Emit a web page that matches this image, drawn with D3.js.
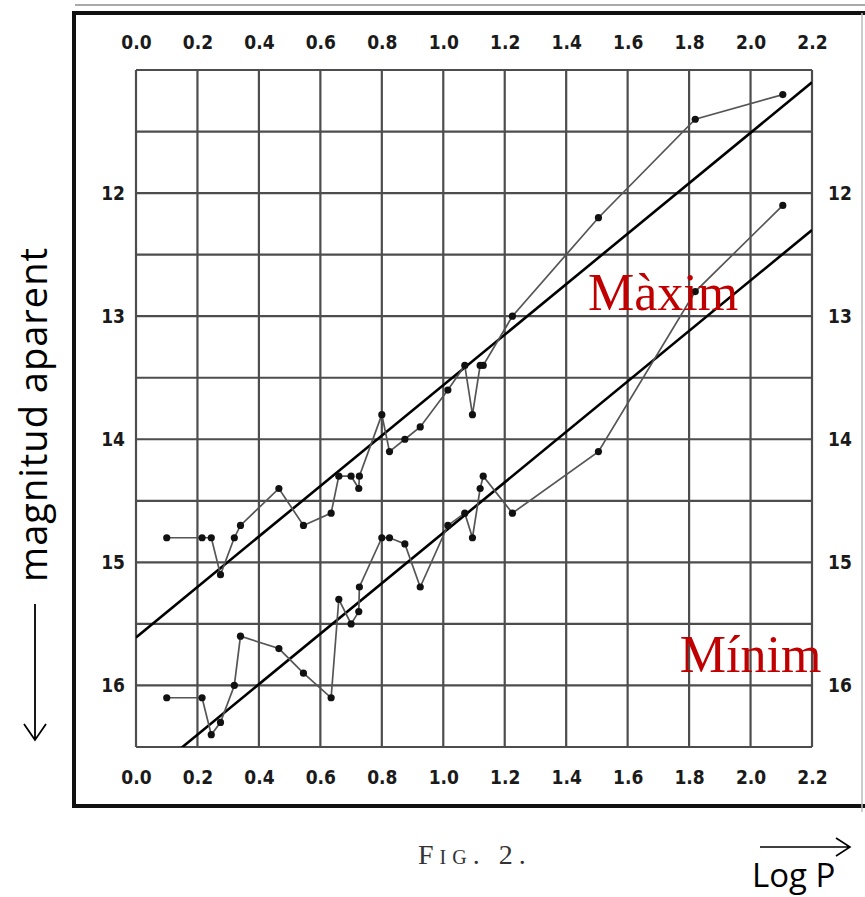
<!DOCTYPE html>
<html>
<head>
<meta charset="utf-8">
<script src="https://cdn.jsdelivr.net/npm/d3@7"></script>
<style>
    body { margin: 0; background: #fff; }
    svg { display: block; }
</style>
</head>
<body>
<svg id="chart" width="865" height="897"></svg>
<script>
// data (log of period in days, apparent magnitude at max / min)
var logP = [0.10, 0.215, 0.245, 0.275, 0.32, 0.34, 0.465, 0.545, 0.635, 0.66, 0.70, 0.725, 0.727,
    0.80, 0.825, 0.875, 0.925, 1.015, 1.07, 1.095, 1.12, 1.13, 1.225, 1.505, 1.82, 2.105];
var magMax = [14.8, 14.8, 14.8, 15.1, 14.8, 14.7, 14.4, 14.7, 14.6, 14.3, 14.3, 14.4, 14.3,
    13.8, 14.1, 14.0, 13.9, 13.6, 13.4, 13.8, 13.4, 13.4, 13.0, 12.2, 11.4, 11.2];
var magMin = [16.1, 16.1, 16.4, 16.3, 16.0, 15.6, 15.7, 15.9, 16.1, 15.3, 15.5, 15.4, 15.2,
    14.8, 14.8, 14.85, 15.2, 14.7, 14.6, 14.8, 14.4, 14.3, 14.6, 14.1, 12.8, 12.1];

// the two straight lines drawn through the points
var fitMax = [[0, 15.61], [2.2, 11.1]];
var fitMin = [[0, 16.81], [2.2, 12.3]];

// ticks
var xTicks = [0, 0.2, 0.4, 0.6, 0.8, 1.0, 1.2, 1.4, 1.6, 1.8, 2.0, 2.2];
var xTickLabels = ['0.0', '0.2', '0.4', '0.6', '0.8', '1.0', '1.2', '1.4', '1.6', '1.8', '2.0', '2.2'];
var yGrid = [11, 11.5, 12, 12.5, 13, 13.5, 14, 14.5, 15, 15.5, 16, 16.5];
var yTicks = [12, 13, 14, 15, 16];

var svg = d3.select('#chart');

var x = d3.scaleLinear().domain([0, 2.2]).range([136, 812]);
var y = d3.scaleLinear().domain([11, 16.5]).range([70, 747]);

var labelFont = '"DejaVu Sans Condensed", "Liberation Sans Narrow", sans-serif';

// outer frame
var frame = svg.append('g');
frame.append('line').attr('x1', 75).attr('x2', 865).attr('y1', 5).attr('y2', 5)
    .attr('stroke', '#aaa').attr('stroke-width', 2);
frame.append('line').attr('x1', 72).attr('x2', 865).attr('y1', 13).attr('y2', 13)
    .attr('stroke', '#111').attr('stroke-width', 4);
frame.append('line').attr('x1', 74).attr('x2', 74).attr('y1', 11).attr('y2', 808)
    .attr('stroke', '#111').attr('stroke-width', 4);
frame.append('line').attr('x1', 72).attr('x2', 865).attr('y1', 806).attr('y2', 806)
    .attr('stroke', '#111').attr('stroke-width', 4);
frame.append('line').attr('x1', 862).attr('x2', 862).attr('y1', 13).attr('y2', 812)
    .attr('stroke', '#bbb').attr('stroke-width', 1.5);

// grid
var grid = svg.append('g').attr('stroke', '#4d4d4d').attr('stroke-width', 2.2);
grid.selectAll('line.v')
    .data(xTicks)
    .join('line')
    .attr('class', 'v')
    .attr('x1', d => x(d)).attr('x2', d => x(d))
    .attr('y1', y(11)).attr('y2', y(16.5));
grid.selectAll('line.h')
    .data(yGrid)
    .join('line')
    .attr('class', 'h')
    .attr('x1', x(0)).attr('x2', x(2.2))
    .attr('y1', d => y(d)).attr('y2', d => y(d));

// axis labels on all four sides
function styleAxis(g) {
    g.select('.domain').remove();
    g.selectAll('text')
        .attr('fill', '#1a1a1a')
        .style('font-family', labelFont)
        .style('font-weight', 'bold')
        .style('font-size', '19px');
}
var fmtX = (d, i) => xTickLabels[i];

svg.append('g')
    .attr('transform', `translate(0,${y(11)})`)
    .call(d3.axisTop(x).tickValues(xTicks).tickFormat(fmtX).tickSize(0).tickPadding(21))
    .call(styleAxis);
svg.append('g')
    .attr('transform', `translate(0,${y(16.5)})`)
    .call(d3.axisBottom(x).tickValues(xTicks).tickFormat(fmtX).tickSize(0).tickPadding(24))
    .call(styleAxis);
svg.append('g')
    .attr('transform', `translate(${x(0)},0)`)
    .call(d3.axisLeft(y).tickValues(yTicks).tickFormat(d3.format('d')).tickSize(0).tickPadding(11))
    .call(styleAxis);
svg.append('g')
    .attr('transform', `translate(${x(2.2)},0)`)
    .call(d3.axisRight(y).tickValues(yTicks).tickFormat(d3.format('d')).tickSize(0).tickPadding(16))
    .call(styleAxis);

// fitted lines, clipped to the plot area
svg.append('clipPath').attr('id', 'plot-clip')
    .append('rect')
    .attr('x', x(0)).attr('y', y(11))
    .attr('width', x(2.2) - x(0)).attr('height', y(16.5) - y(11));

var line = d3.line().x(d => x(d[0])).y(d => y(d[1]));

svg.append('g')
    .attr('clip-path', 'url(#plot-clip)')
    .selectAll('path')
    .data([fitMax, fitMin])
    .join('path')
    .attr('d', line)
    .attr('fill', 'none')
    .attr('stroke', '#000')
    .attr('stroke-width', 2.6);

// observed points joined in order of period
var maxPts = logP.map((p, i) => [p, magMax[i]]);
var minPts = logP.map((p, i) => [p, magMin[i]]);

svg.append('g')
    .selectAll('path')
    .data([maxPts, minPts])
    .join('path')
    .attr('d', line)
    .attr('fill', 'none')
    .attr('stroke', '#555')
    .attr('stroke-width', 1.7);

svg.append('g')
    .selectAll('circle')
    .data(maxPts.concat(minPts))
    .join('circle')
    .attr('cx', d => x(d[0]))
    .attr('cy', d => y(d[1]))
    .attr('r', 3.6)
    .attr('fill', '#111');

// red labels
svg.append('text')
    .attr('x', x(1.471)).attr('y', y(12.95))
    .attr('fill', '#c00000')
    .style('font-family', '"Liberation Serif", "Times New Roman", serif')
    .style('font-size', '52px')
    .text('Màxim');
svg.append('text')
    .attr('x', x(1.77)).attr('y', y(15.89))
    .attr('fill', '#c00000')
    .style('font-family', '"Liberation Serif", "Times New Roman", serif')
    .style('font-size', '52px')
    .text('Mínim');

// caption
svg.append('text')
    .attr('x', 418).attr('y', 864)
    .attr('fill', '#333')
    .style('font-family', '"Liberation Serif", serif')
    .style('font-variant', 'small-caps')
    .style('letter-spacing', '6px')
    .style('font-size', '28px')
    .text('Fig. 2.');

// axis titles with arrows
var titleFont = '"Open Sans", "Noto Sans", sans-serif';
svg.append('text')
    .attr('x', 752).attr('y', 887)
    .attr('fill', '#000')
    .style('font-family', titleFont)
    .style('font-size', '33px')
    .text('Log P');
svg.append('path')
    .attr('d', 'M760,847 H850 M836,838 L850,847 L836,856')
    .attr('fill', 'none').attr('stroke', '#000').attr('stroke-width', 1.6);

svg.append('text')
    .attr('transform', 'translate(47,582) rotate(-90)')
    .attr('fill', '#000')
    .style('font-family', titleFont)
    .style('font-size', '38px')
    .style('letter-spacing', '1px')
    .text('magnitud aparent');
svg.append('path')
    .attr('d', 'M35,604 V740 M24,724 L35,740 L46,724')
    .attr('fill', 'none').attr('stroke', '#000').attr('stroke-width', 1.8);
</script>
</body>
</html>
